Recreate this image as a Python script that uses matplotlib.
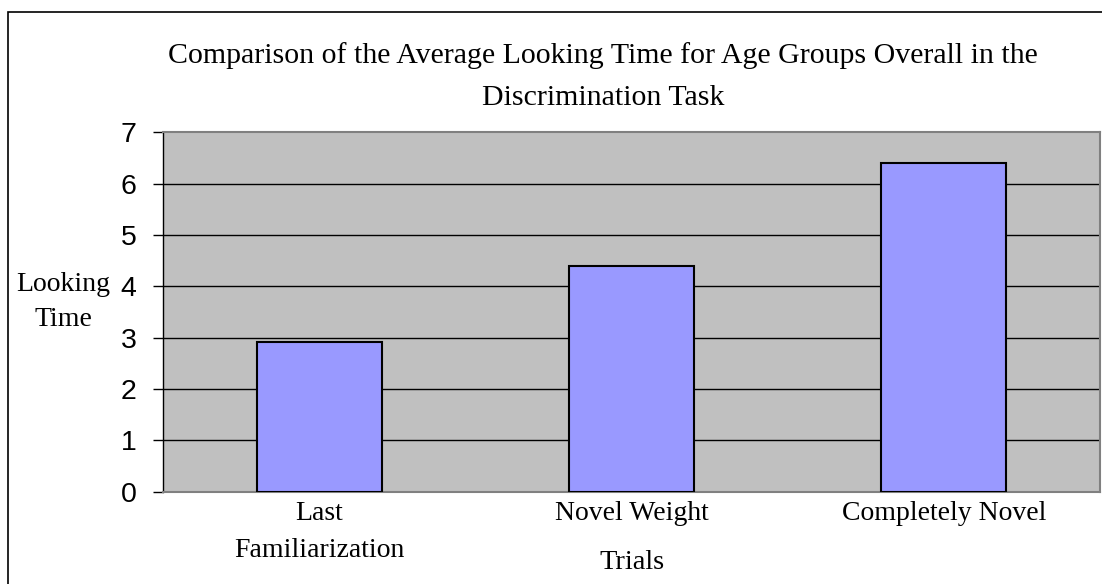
import numpy as np
import matplotlib
matplotlib.use('Agg')
import matplotlib.pyplot as plt
from matplotlib.patches import Rectangle

# data
categories = ['Last\nFamiliarization', 'Novel Weight', 'Completely Novel']
looking_time = [2.92, 4.39, 6.40]
yticks = [0, 1, 2, 3, 4, 5, 6, 7]

serif = 'Liberation Serif'
sans = 'Liberation Sans'

fig = plt.figure(figsize=(11.02, 5.84), dpi=100)
ax = fig.add_axes([163/1102, 1 - 491.7/584, (1100 - 163)/1102, (491.7 - 132.3)/584])

# outer chart frame
fig.patches.append(Rectangle((8/1102, -0.1), 1.2, 1 - 12/584 + 0.1,
                             transform=fig.transFigure, fill=False,
                             edgecolor='black', lw=1.2, zorder=0))

ax.set_facecolor('#C0C0C0')
x = np.arange(len(categories))
ax.bar(x, looking_time, width=0.4, color='#9999FF', edgecolor='black',
       linewidth=1.5, zorder=3)

ax.set_xlim(-0.5, len(categories) - 0.5)
ax.set_ylim(0, 7)
ax.set_yticks(yticks)
ax.set_yticklabels([str(t) for t in yticks], fontsize=20.5, family=sans)
for t in yticks[1:-1]:
    ax.axhline(t, color='black', lw=1, zorder=1)

ax.set_xticks(x)
ax.set_xticklabels(categories, fontsize=20, family=serif, linespacing=1.6)
ax.tick_params(axis='x', length=0, pad=7)
ax.tick_params(axis='y', length=7, width=1, pad=12)

for side in ['top', 'right', 'bottom']:
    ax.spines[side].set_color('#808080')
    ax.spines[side].set_linewidth(1.5)
ax.spines['left'].set_color('black')
ax.spines['left'].set_linewidth(1)

ax.set_xlabel('Trials', fontsize=20.5, family=serif, va='center')
ax.xaxis.set_label_coords(0.5, -0.196)
ax.set_ylabel('Looking\nTime', fontsize=20, family=serif, rotation=0,
              ha='center', va='center', linespacing=1.55)
ax.yaxis.set_label_coords(-0.106, 0.528)

fig.text(603/1102, 1 - 77/584,
         'Comparison of the Average Looking Time for Age Groups Overall in the\nDiscrimination Task',
         fontsize=21.5, family=serif, ha='center', va='center', linespacing=1.8)

fig.savefig('out.png', dpi=100)
